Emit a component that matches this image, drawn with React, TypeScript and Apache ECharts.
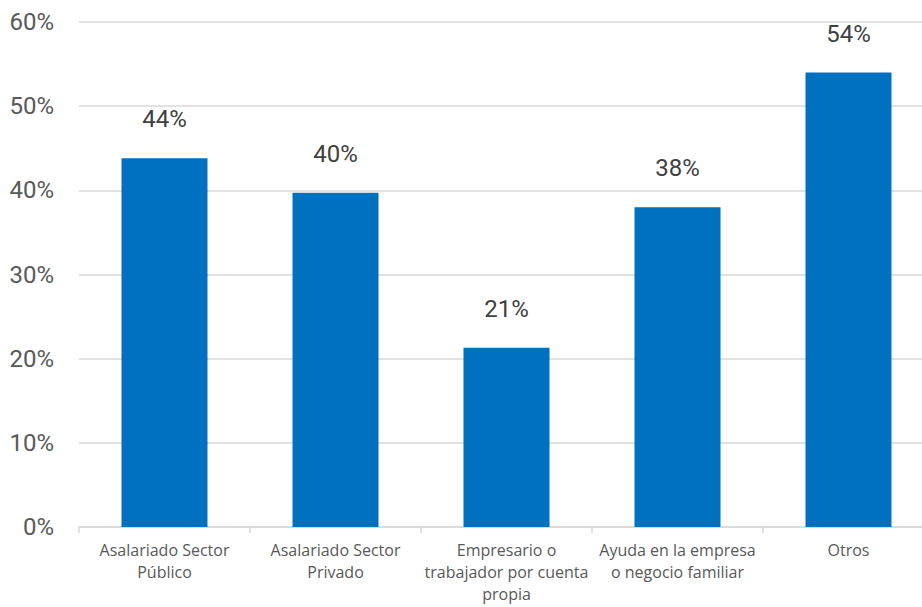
import React, { useEffect, useRef } from "react";
import * as echarts from "echarts";

const categories = [
  "Asalariado Sector\nPúblico",
  "Asalariado Sector\nPrivado",
  "Empresario o\ntrabajador por cuenta\npropia",
  "Ayuda en la empresa\no negocio familiar",
  "Otros",
];
const values = [43.8, 39.7, 21.3, 38.0, 54.0];
const labels = ["44%", "40%", "21%", "38%", "54%"];

const narrow = "Roboto, 'Liberation Sans', sans-serif";

export default function App() {
  const ref = useRef<HTMLDivElement>(null);
  useEffect(() => {
    const chart = echarts.init(ref.current!, null, { renderer: "svg" });
    chart.setOption({
      animation: false,
      grid: { left: 79, right: 0, top: 22, bottom: 80, containLabel: false },
      xAxis: {
        type: "category",
        data: categories,
        axisLine: { lineStyle: { color: "#d9d9d9", width: 1.5 } },
        axisTick: { show: true, length: 6, lineStyle: { color: "#d9d9d9", width: 1.5 } },
        axisLabel: {
          color: "#595959",
          fontFamily: "'Open Sans', 'Noto Sans', sans-serif",
          fontSize: 16,
          lineHeight: 22,
          margin: 12,
          interval: 0,
        },
      },
      yAxis: {
        type: "value",
        min: 0,
        max: 60,
        interval: 10,
        axisLine: { show: false },
        axisTick: { show: false },
        splitLine: { lineStyle: { color: "#d9d9d9", width: 1.5 } },
        axisLabel: {
          formatter: "{value}%",
          color: "#595959",
          fontFamily: narrow,
          fontSize: 24,
          margin: 25,
        },
      },
      series: [
        {
          type: "bar",
          data: values,
          barWidth: 86,
          itemStyle: { color: "#0070C0" },
          label: {
            show: true,
            position: "top",
            distance: 27,
            color: "#404040",
            fontFamily: narrow,
            fontSize: 24,
            formatter: (p: any) => labels[p.dataIndex],
          },
        },
      ],
    });
    return () => chart.dispose();
  }, []);
  return (
    <div style={{ width: 922, height: 607, position: "absolute", left: 0, top: 0, overflow: "hidden" }}>
      <div ref={ref} style={{ width: 934, height: 607 }} />
    </div>
  );
}
